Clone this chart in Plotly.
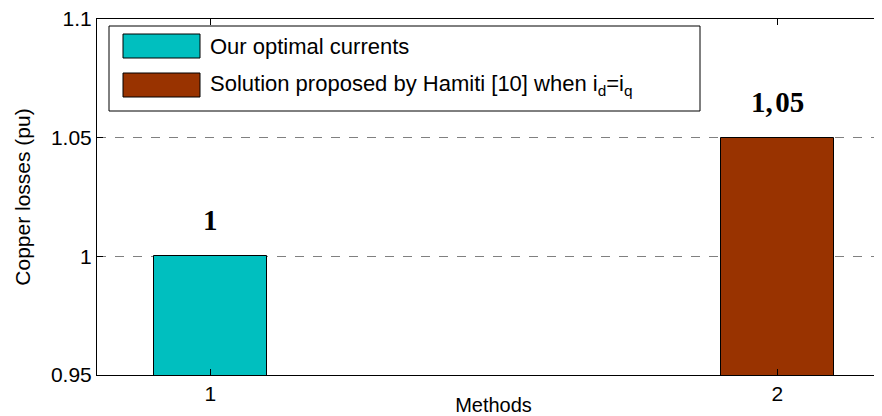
"""
Copper losses per method - bar chart in the MATLAB look
"""
import plotly.graph_objects as go

# data
methods = [1, 2]
copper_losses = [1.0, 1.05]
value_labels = ['1', '1,\u200a05']
series_names = ['Our optimal currents',
                'Solution proposed by Hamiti [10] when i<sub>d</sub>=i<sub>q</sub>']
bar_colors = ['#00BFBF', '#993300']
y_ticks = [0.95, 1.0, 1.05, 1.1]
y_tick_labels = ['0.95', '1', '1.05', '1.1']

# the page body adds 8px around the figure, so work in window pixels
OFF = 8
W, H = 882, 408
L, R, T, B = 89, 0, 11, 41
PW, PH = W - L - R, H - T - B

SANS = 'Liberation Sans, Arial, sans-serif'
SERIF = 'Liberation Serif, Times New Roman, serif'


def px_x(x):
    # window pixel x -> paper x
    return (x - OFF - L) / PW


def px_y(y):
    # window pixel y -> paper y
    return (H - B - (y - OFF)) / PH


fig = go.Figure()

for m, v, name, c in zip(methods, copper_losses, series_names, bar_colors):
    fig.add_trace(go.Bar(
        x=[m], y=[v], width=0.2, name=name,
        marker=dict(color=c, line=dict(color='black', width=1)),
        showlegend=False,
    ))

# value labels above bars
for m, v, lab in zip(methods, copper_losses, value_labels):
    fig.add_annotation(
        x=m, y=v, text=lab, showarrow=False,
        yanchor='bottom', yshift=18,
        font=dict(family=SERIF, size=29, color='black', weight='bold'),
    )

# hand-made legend (MATLAB style wide swatches)
shapes = [dict(type='rect', xref='paper', yref='paper',
               x0=px_x(109), x1=px_x(700), y0=px_y(111), y1=px_y(26),
               line=dict(color='black', width=1), fillcolor='white', layer='above')]
rows = [46, 85]
for yc, name, c in zip(rows, series_names, bar_colors):
    shapes.append(dict(type='rect', xref='paper', yref='paper',
                       x0=px_x(123), x1=px_x(200), y0=px_y(yc + 12), y1=px_y(yc - 12),
                       line=dict(color='black', width=1), fillcolor=c, layer='above'))
    fig.add_annotation(
        x=px_x(208), y=px_y(yc), xref='paper', yref='paper',
        text=name, showarrow=False, xanchor='left', yanchor='middle',
        font=dict(family=SANS, size=22, color='black'),
    )

fig.update_layout(
    width=W, height=H,
    margin=dict(l=L, r=R, t=T, b=B),
    plot_bgcolor='white', paper_bgcolor='white',
    shapes=shapes,
    showlegend=False,
    font=dict(family=SANS, size=22, color='black'),
    bargap=0,
)

fig.update_xaxes(
    range=[0.8, 0.8 + PW / 567],
    tickvals=methods, ticktext=[str(m) for m in methods],
    ticks='inside', ticklen=6, tickcolor='black',
    showline=True, linecolor='black', linewidth=1, mirror='ticks',
    showgrid=False, zeroline=False,
    title=dict(text='Methods', standoff=0, font=dict(size=20)),
    tickfont=dict(size=21),
    automargin=False,
)

fig.update_yaxes(
    range=[0.95, 1.1],
    tickvals=y_ticks, ticktext=y_tick_labels,
    ticks='inside', ticklen=6, tickcolor='black',
    showline=True, linecolor='black', linewidth=1,
    showgrid=True, gridcolor='#808080', griddash='dash', gridwidth=1,
    zeroline=False,
    title=dict(text='Copper losses (pu)', standoff=14, font=dict(size=21)),
    tickfont=dict(size=21),
    ticklabeloverflow='allow',
    automargin=False,
)

fig.write_html("out.html")
